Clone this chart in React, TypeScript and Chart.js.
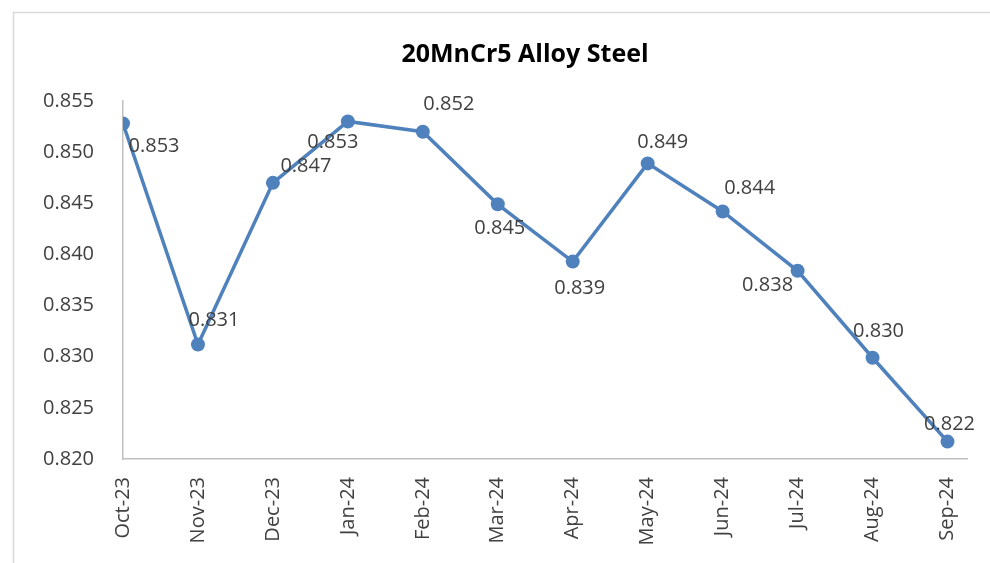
import React, { useEffect, useRef } from "react";
import { Chart, registerables } from "chart.js";

Chart.register(...registerables);

const categories = ["Oct-23", "Nov-23", "Dec-23", "Jan-24", "Feb-24", "Mar-24", "Apr-24", "May-24", "Jun-24", "Jul-24", "Aug-24", "Sep-24"];
const prices = [0.8528, 0.8312, 0.847, 0.853, 0.852, 0.8449, 0.8393, 0.8489, 0.8442, 0.8384, 0.8299, 0.8217];
const yTicks = [0.82, 0.825, 0.83, 0.835, 0.84, 0.845, 0.85, 0.855];

const FONT = "'Open Sans', 'Noto Sans', sans-serif";
const TEXT = "#404040";
const BLUE = "#4f81bd";
// label offsets (dx, dy) from each point, in pixels
const LABEL_OFFSETS: [number, number][] = [
  [31, 23], [16, -24], [33, -17], [-15, 21], [26, -27], [2, 24],
  [7, 27], [15, -21], [27, -23], [-30, 15], [6, -26], [2, -17],
];

const decorPlugin = {
  id: "decor",
  beforeDraw(chart: any) {
    const ctx = chart.ctx;
    ctx.save();
    ctx.fillStyle = "#ffffff";
    ctx.fillRect(0, 0, chart.width, chart.height);
    ctx.strokeStyle = "#d9d9d9";
    ctx.lineWidth = 1.5;
    ctx.strokeRect(13.5, 12.5, 1100, 700);
    ctx.fillStyle = "#000000";
    ctx.font = `bold 25px ${FONT}`;
    ctx.textAlign = "center";
    ctx.textBaseline = "alphabetic";
    ctx.fillText("20MnCr5 Alloy Steel", 525, 62);
    ctx.restore();
  },
  afterDatasetsDraw(chart: any) {
    const ctx = chart.ctx;
    const meta = chart.getDatasetMeta(0);
    ctx.save();
    ctx.fillStyle = TEXT;
    ctx.font = `20px ${FONT}`;
    ctx.textAlign = "center";
    ctx.textBaseline = "middle";
    meta.data.forEach((pt: any, i: number) => {
      const [dx, dy] = LABEL_OFFSETS[i];
      ctx.fillText(prices[i].toFixed(3), pt.x + dx, pt.y + dy);
    });
    ctx.restore();
  },
};

export default function App() {
  const ref = useRef<HTMLCanvasElement>(null);
  useEffect(() => {
    if (!ref.current) return;
    const chart = new Chart(ref.current, {
      type: "line",
      data: {
        datasets: [
          {
            data: prices.map((v, i) => ({ x: i, y: v })),
            borderColor: BLUE,
            backgroundColor: BLUE,
            borderWidth: 3.5,
            pointRadius: 7,
            pointHoverRadius: 7,
            pointBackgroundColor: BLUE,
            pointBorderColor: BLUE,
            pointBorderWidth: 0,
            tension: 0,
          },
        ],
      },
      options: {
        responsive: false,
        animation: false,
        events: [],
        layout: { padding: { left: 0, top: 101, right: 21, bottom: 0 } },
        plugins: { legend: { display: false }, title: { display: false }, tooltip: { enabled: false } },
        scales: {
          x: {
            type: "linear",
            min: 0,
            max: 11.26,
            afterBuildTicks: (scale: any) => {
              scale.ticks = categories.map((_, i) => ({ value: i }));
            },
            afterFit: (scale: any) => {
              scale.height = 104;
            },
            grid: { display: false, drawTicks: false },
            border: { display: true, color: "#bfbfbf", width: 1.5 },
            ticks: {
              autoSkip: false,
              minRotation: 90,
              maxRotation: 90,
              padding: 18,
              color: TEXT,
              font: { family: FONT, size: 20 },
              callback: (v: any) => categories[Math.round(Number(v))] ?? "",
            },
          },
          y: {
            min: 0.82,
            max: 0.855,
            afterBuildTicks: (scale: any) => {
              scale.ticks = yTicks.map((v) => ({ value: v }));
            },
            afterFit: (scale: any) => {
              scale.width = 123;
            },
            grid: { display: false, drawTicks: false },
            border: { display: true, color: "#bfbfbf", width: 1.5 },
            ticks: {
              padding: 29,
              color: TEXT,
              font: { family: FONT, size: 20 },
              callback: (v: any) => Number(v).toFixed(3),
            },
          },
        },
      },
      plugins: [decorPlugin],
    });
    return () => chart.destroy();
  }, []);
  return (
    <div style={{ position: "absolute", left: 0, top: 0, width: 990, height: 563, background: "#fff" }}>
      <canvas ref={ref} width={990} height={563} style={{ display: "block" }} />
    </div>
  );
}
